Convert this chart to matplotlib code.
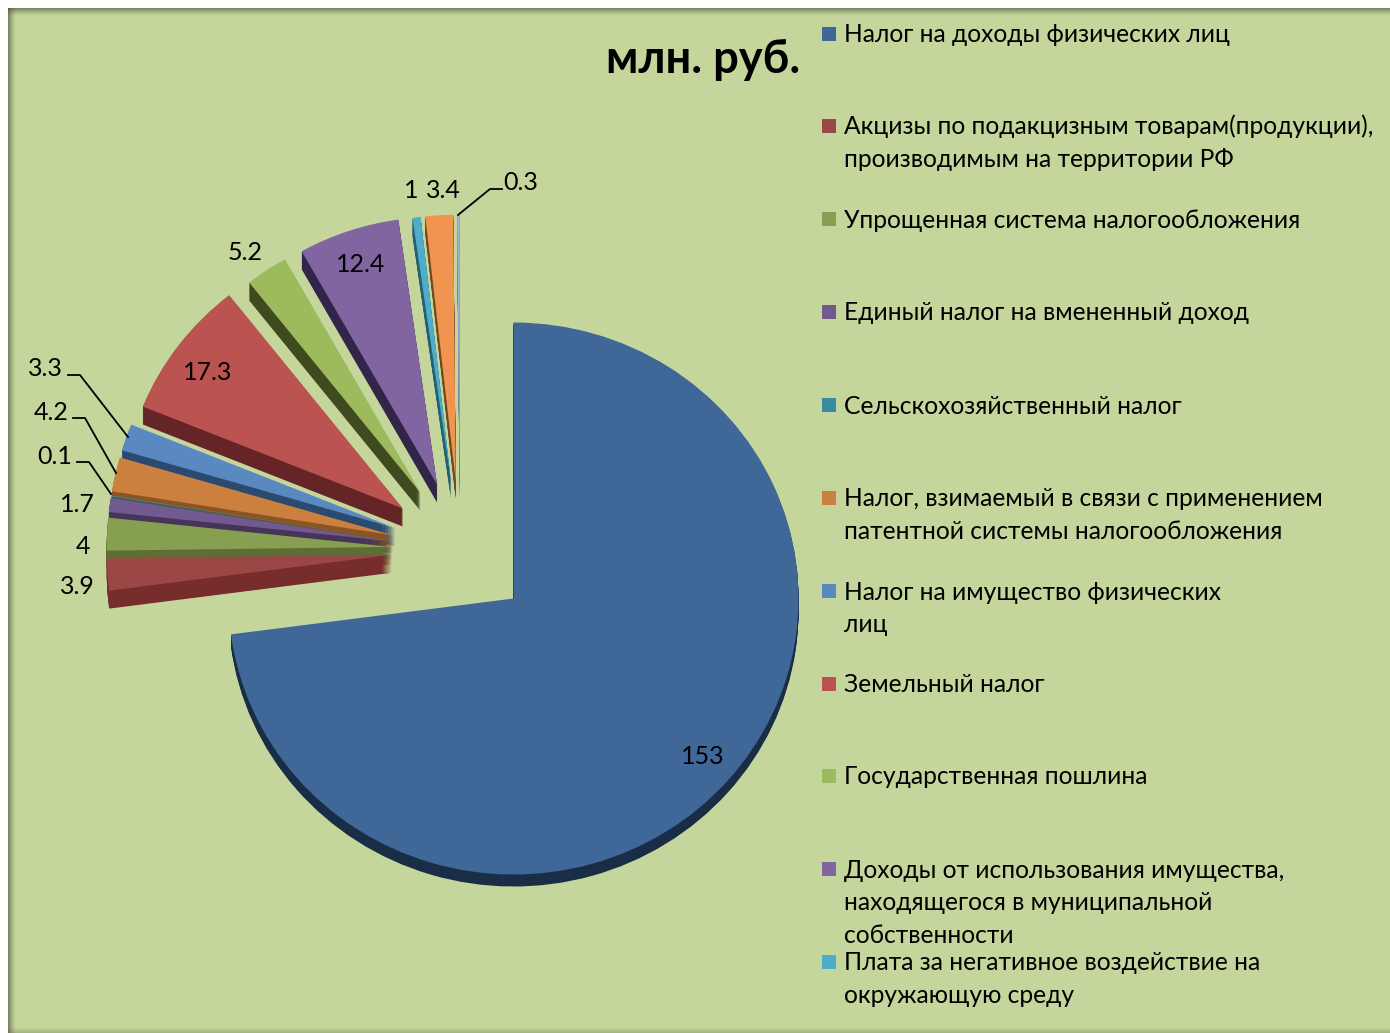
import numpy as np
import matplotlib
matplotlib.use("Agg")
import matplotlib.pyplot as plt
from matplotlib.patches import Rectangle

plt.rcParams['font.family'] = ['Lato', 'Noto Sans', 'DejaVu Sans']

# Datos del grafico
valores = [153, 3.9, 4, 1.7, 0.1, 4.2, 3.3, 17.3, 5.2, 12.4, 1, 3.4, 0.3]
etiquetas = ["153", "3.9", "4", "1.7", "0.1", "4.2", "3.3", "17.3", "5.2", "12.4", "1", "3.4", "0.3"]
leyenda = [
    "Налог на доходы физических лиц",
    "Акцизы по подакцизным товарам(продукции),\nпроизводимым на территории РФ",
    "Упрощенная система налогообложения",
    "Единый налог на вмененный доход",
    "Сельскохозяйственный налог",
    "Налог, взимаемый в связи с применением\nпатентной системы налогообложения",
    "Налог на имущество физических\nлиц",
    "Земельный налог",
    "Государственная пошлина",
    "Доходы от использования имущества,\nнаходящегося в муниципальной\nсобственности",
    "Плата за негативное воздействие на\nокружающую среду",
]
titulo = "млн. руб."

colores = ["#3f6797", "#9a4746", "#869f50", "#725a90", "#3a8ba0", "#cc8040", "#5a88c0",
           "#bb5350", "#9dba5d", "#8065a1", "#4fadc9", "#f09450", "#a6b4d8"]
oscuros = ["#1a2d47", "#772d2c", "#5d6d33", "#463459", "#205f6f", "#8a5523", "#2b4a70",
           "#652526", "#3f4a1f", "#33254a", "#245f73", "#704a20", "#6d7a9c"]

ley_y = [34, 126, 219, 312, 405, 498, 591, 684, 776, 869, 962]
etq_pos = [(703, 757), (77, 587), (83, 546), (77, 505), (55, 457), (51, 413), (45, 369),
           (208, 373), (245, 252), (361, 265), (411, 191), (443, 191), (521, 183)]
lineas = [
    [(68, 375), (80, 375), (128, 437)],
    [(73, 418), (85, 418), (116, 473)],
    [(77, 462), (89, 462), (111, 494)],
    [(458, 215), (490, 189), (502, 189)],
]

# Geometria del pastel en pixeles
cx, cy, rx, ry = 460, 550, 285, 276
separacion = [0.25, 0.24, 0.24, 0.24, 0.24, 0.24, 0.24, 0.25, 0.25, 0.25, 0.25, 0.25, 0.25]
radios = [1, 1, 1, 1, 1, 1, 1, 0.985, 0.97, 0.97, 0.965, 0.965, 0.965]
baja_main = 3 / ry
prof = 18
prof_main = 12
W, H = 1390, 1033

fig = plt.figure(figsize=(13.9, 10.33), dpi=100, facecolor="white")

# Fondo y sombra del borde
fondo = fig.add_axes([0, 0, 1, 1])
fondo.set_xlim(0, W)
fondo.set_ylim(H, 0)
fondo.axis("off")
fondo.add_patch(Rectangle((8, 8), W - 8, H - 8, facecolor="#c4d69b", edgecolor="none"))
for i in range(8):
    a = 0.55 * (1 - i / 8) ** 1.5
    fondo.add_patch(Rectangle((8 + i, 8), 1, H, facecolor="#404030", alpha=a, edgecolor="none"))
    fondo.add_patch(Rectangle((8, 8 + i), W, 1, facecolor="#404030", alpha=a, edgecolor="none"))
for i in range(5):
    a = 0.22 * (i + 1) / 5
    fondo.add_patch(Rectangle((8, H - 5 + i), W, 1, facecolor="#404030", alpha=a, edgecolor="none"))


def ajustar(wedges):
    # El sector grande queda un poco mas abajo, los de arriba un poco menores
    x0, y0 = wedges[0].center
    wedges[0].set_center((x0, y0 - baja_main))
    for w, r in zip(wedges, radios):
        w.set_radius(r)


# Pastel
ax = fig.add_axes([0, 0, 1, 1])
ax.patch.set_alpha(0)
for d in range(prof, 0, -1):
    wedges, _ = ax.pie(valores, colors=oscuros, explode=separacion, startangle=90, counterclock=False,
                       center=(0, -d / ry), wedgeprops={"linewidth": 0, "edgecolor": "none"})
    ajustar(wedges)
    if d > prof_main:
        wedges[0].set_visible(False)
wedges, _ = ax.pie(valores, colors=colores, explode=separacion, startangle=90, counterclock=False,
                   wedgeprops={"linewidth": 0, "edgecolor": "none"})
ajustar(wedges)
ax.set_aspect("auto")
ax.set_xlim(-cx / rx, (W - cx) / rx)
ax.set_ylim((cy - H) / ry, cy / ry)

# Textos encima
txt = fig.add_axes([0, 0, 1, 1])
txt.patch.set_alpha(0)
txt.set_xlim(0, W)
txt.set_ylim(H, 0)
txt.axis("off")

txt.text(703, 60, titulo, fontsize=32.6, fontweight="bold", ha="center", va="center", color="black")

for lab, (x, y) in zip(etiquetas, etq_pos):
    txt.text(x, y, lab, fontsize=18, ha="center", va="center", color="black")

for pts in lineas:
    xs = [p[0] for p in pts]
    ys = [p[1] for p in pts]
    txt.plot(xs, ys, color="black", lw=1.3)

for i, (nombre, y) in enumerate(zip(leyenda, ley_y)):
    txt.add_patch(Rectangle((822, y - 7), 14, 14, facecolor=colores[i], edgecolor="none"))
    for j, linea in enumerate(nombre.split("\n")):
        txt.text(844, y + 8.5 + j * 32.7, linea, fontsize=17.7, ha="left", va="baseline", color="black")

fig.savefig("out.png", dpi=100)
